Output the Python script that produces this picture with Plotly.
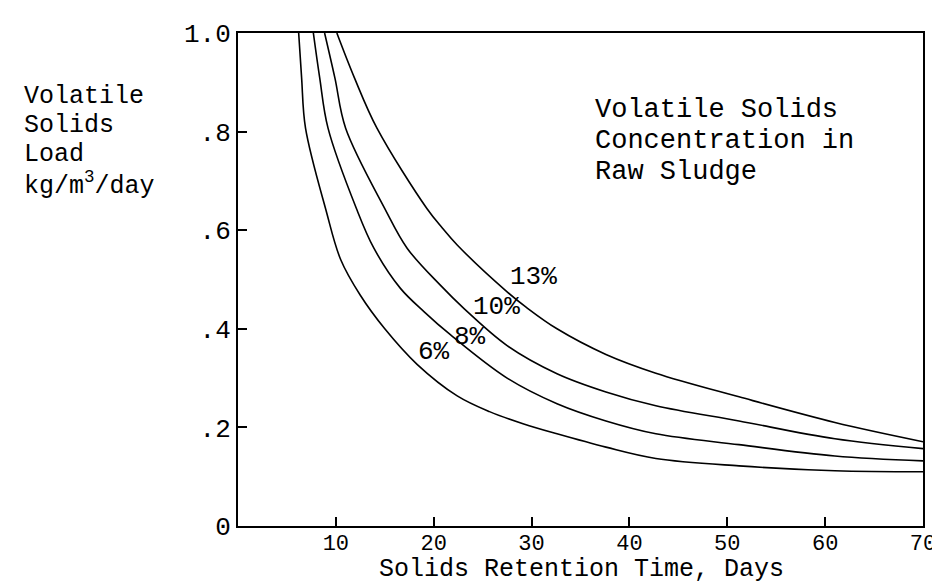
import plotly.graph_objects as go

# Solids retention time (days) and volatile solids load (kg/m3/day) per curve
srt_6 = [6.2, 6.5, 6.9, 9.0, 10.5, 12.5, 15.0, 18.3, 22.4, 25.7, 29.2, 32.6, 37.6, 42.7, 51.2, 61.0, 70.0]
load_6 = [1.0, 0.909, 0.807, 0.640, 0.540, 0.468, 0.400, 0.328, 0.264, 0.232, 0.207, 0.187, 0.160, 0.137, 0.122, 0.112, 0.110]

srt_8 = [7.7, 8.35, 9.2, 12.1, 13.9, 16.6, 19.0, 21.7, 27.5, 32.6, 37.6, 42.7, 51.2, 61.0, 70.0]
load_8 = [1.0, 0.909, 0.807, 0.644, 0.563, 0.482, 0.435, 0.388, 0.300, 0.248, 0.213, 0.187, 0.165, 0.142, 0.132]

srt_10 = [8.85, 9.9, 11.0, 15.0, 17.3, 20.7, 23.1, 27.5, 32.6, 37.6, 42.7, 51.2, 61.0, 70.0]
load_10 = [1.0, 0.909, 0.807, 0.644, 0.563, 0.488, 0.441, 0.366, 0.309, 0.272, 0.244, 0.213, 0.177, 0.157]

srt_13 = [10.1, 11.9, 14.2, 19.3, 20.9, 22.4, 27.5, 29.5, 32.6, 37.6, 42.7, 51.2, 61.0, 70.0]
load_13 = [1.0, 0.909, 0.807, 0.644, 0.604, 0.570, 0.475, 0.443, 0.400, 0.348, 0.310, 0.262, 0.210, 0.171]

curve_names = ["6%", "8%", "10%", "13%"]
label_x = [20.0, 23.7, 26.4, 30.2]
label_y = [0.352, 0.384, 0.445, 0.506]

x_tickvals = [10, 20, 30, 40, 50, 60, 70]
x_ticktext = ["10", "20", "30", "40", "50", "60", "70"]
y_tickvals = [0, 0.2, 0.4, 0.6, 0.8, 1.0]
y_ticktext = ["0", ".2", ".4", ".6", ".8", "1.0"]

note_lines = ["Volatile Solids", "Concentration in", "Raw Sludge"]
ylabel_lines = ["Volatile", "Solids", "Load", "kg/m<sup>3</sup>/day"]
x_title = "Solids Retention Time, Days"

FONT = "Liberation Mono"

fig = go.Figure()
for xs, ys, nm in zip([srt_6, srt_8, srt_10, srt_13], [load_6, load_8, load_10, load_13], curve_names):
    fig.add_trace(go.Scatter(x=xs, y=ys, mode="lines", name=nm,
                             line=dict(color="black", width=1.6, shape="spline", smoothing=1.0),
                             showlegend=False, hoverinfo="skip"))

for nm, lx, ly in zip(curve_names, label_x, label_y):
    fig.add_annotation(x=lx, y=ly, text=nm, showarrow=False,
                       font=dict(family=FONT, size=26, color="black"),
                       xanchor="center", yanchor="middle")

# note block inside the plot (data coords)
note_y = [0.844, 0.781, 0.718]
for t, yy in zip(note_lines, note_y):
    fig.add_annotation(x=36.3, y=yy, text=t, showarrow=False, xref="x", yref="y",
                       font=dict(family=FONT, size=27, color="black"),
                       xanchor="left", yanchor="middle")

# stacked y-axis label left of the axis (paper coords)
yl_y = [0.872, 0.812, 0.753, 0.693]
for t, yy in zip(ylabel_lines, yl_y):
    fig.add_annotation(x=-0.316, y=yy, text=t, showarrow=False, xref="paper", yref="paper",
                       font=dict(family=FONT, size=25, color="black"),
                       xanchor="left", yanchor="middle")

fig.add_annotation(x=0.502, y=-0.088, text=x_title, showarrow=False, xref="paper", yref="paper",
                   font=dict(family=FONT, size=25, color="black"),
                   xanchor="center", yanchor="middle")

fig.update_layout(
    width=940, height=586,
    margin=dict(l=230, r=23, t=25, b=68),
    paper_bgcolor="white", plot_bgcolor="white",
    font=dict(family=FONT, color="black"),
    xaxis=dict(range=[0, 70], tickvals=x_tickvals, ticktext=x_ticktext,
               showgrid=False, zeroline=False, showline=True, mirror=True,
               linecolor="black", linewidth=2, ticks="inside", ticklen=9,
               tickwidth=1.5, tickcolor="black", ticklabelstandoff=-4,
               tickfont=dict(family=FONT, size=22, color="black")),
    yaxis=dict(range=[0, 1.0], tickvals=y_tickvals, ticktext=y_ticktext,
               showgrid=False, zeroline=False, showline=True, mirror=True,
               linecolor="black", linewidth=2, ticks="inside", ticklen=9,
               tickwidth=1.5, tickcolor="black",
               tickfont=dict(family=FONT, size=26, color="black")),
)

fig.write_html("out.html")
